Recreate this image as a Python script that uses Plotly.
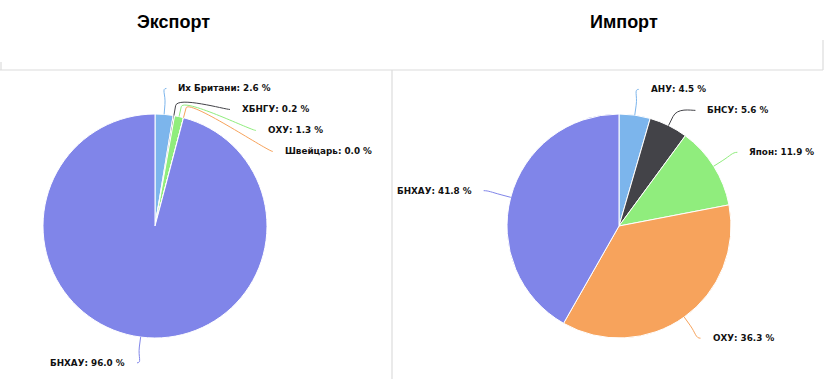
import math
import plotly.graph_objects as go

# ---- data ----
titles = ["Экспорт", "Импорт"]
export_labels = ["Их Британи", "ХБНГУ", "ОХУ", "Швейцарь", "БНХАУ"]
export_values = [2.6, 0.2, 1.3, 0.0, 96.0]
import_labels = ["АНУ", "БНСУ", "Япон", "ОХУ", "БНХАУ"]
import_values = [4.5, 5.6, 11.9, 36.3, 41.8]
colors = ["#7cb5ec", "#434348", "#90ed7d", "#f7a35c", "#8085e9"]

# ---- layout constants ----
W, H = 825, 379
R = 112
RX, RY = 140, 138
SPACING = 21
YMAX = 366
centers = [(155, 226), (619, 226)]
title_x = [173, 624]
LINE = "#dcdcdc"

fig = go.Figure()
shapes = []
annotations = []


def layout_labels(values, cx, cy):
    total = sum(values)
    cum = 0.0
    items = []
    for i, v in enumerate(values):
        mid = (cum + v / 2.0) / total * 2 * math.pi
        cum += v
        s, c = math.sin(mid), math.cos(mid)
        side = 1 if s >= 0 else -1
        items.append(dict(i=i, s=s, c=c, side=side, y=cy - RY * c))
    for side in (1, -1):
        grp = sorted([it for it in items if it["side"] == side], key=lambda it: it["y"])
        for a, b in zip(grp, grp[1:]):
            if b["y"] < a["y"] + SPACING:
                b["y"] = a["y"] + SPACING
        if grp and grp[-1]["y"] > YMAX:
            grp[-1]["y"] = YMAX
            for a, b in zip(reversed(grp[:-1]), reversed(grp[1:])):
                if a["y"] > b["y"] - SPACING:
                    a["y"] = b["y"] - SPACING
    for it in items:
        d = (it["y"] - cy) / RY
        it["x"] = cx + it["side"] * RX * math.sqrt(max(0.0, 1 - d * d))
    return items


for k, (labels, values) in enumerate([(export_labels, export_values),
                                       (import_labels, import_values)]):
    cx, cy = centers[k]
    fig.add_trace(go.Pie(
        labels=labels, values=values, sort=False, direction="clockwise",
        rotation=0, textinfo="none", hoverinfo="label+percent",
        marker=dict(colors=colors, line=dict(color="white", width=1)),
        domain=dict(x=[(cx - R) / W, (cx + R) / W],
                    y=[(H - cy - R) / H, (H - cy + R) / H]),
        showlegend=False,
    ))
    for it in layout_labels(values, cx, cy):
        i, s, c, side = it["i"], it["s"], it["c"], it["side"]
        lx, ly = it["x"], it["y"]
        tx, ty = cx + R * s, cy - R * c
        bx, by = cx + (R + 10) * s, cy - (R + 10) * c
        c2x, c2y = 2 * bx - tx, 2 * by - ty
        path = (f"M {lx:.2f} {ly:.2f} C {lx - side * 5:.2f} {ly:.2f} "
                f"{c2x:.2f} {c2y:.2f} {bx:.2f} {by:.2f} L {tx:.2f} {ty:.2f}")
        shapes.append(dict(type="path", path=path, xref="x", yref="y",
                           line=dict(color=colors[i], width=1), layer="above"))
        annotations.append(dict(
            x=lx + side * 10, y=ly, xref="x", yref="y",
            text=f"{labels[i]}: {values[i]:.1f} %", showarrow=False,
            xanchor="left" if side > 0 else "right", yanchor="middle",
            font=dict(family="DejaVu Sans", size=8.8, color="#111111", weight="bold"),
        ))
    annotations.append(dict(
        x=title_x[k], y=22, xref="x", yref="y", text=titles[k], showarrow=False,
        xanchor="center", yanchor="middle",
        font=dict(family="Liberation Sans", size=18, color="#000000", weight="bold"),
    ))

# frame lines
for x0, y0, x1, y1 in [(0, 70, 823, 70), (1, 62, 1, 70), (823, 40, 823, 70), (392, 70, 392, 379)]:
    shapes.append(dict(type="line", x0=x0, y0=y0, x1=x1, y1=y1, xref="x", yref="y",
                       line=dict(color=LINE, width=1.2), layer="below"))

fig.update_layout(
    width=W, height=H, autosize=False,
    margin=dict(l=0, r=0, t=0, b=0),
    paper_bgcolor="white", plot_bgcolor="white",
    xaxis=dict(range=[0, W], visible=False, fixedrange=True, domain=[0, 1]),
    yaxis=dict(range=[H, 0], visible=False, fixedrange=True, domain=[0, 1]),
    shapes=shapes, annotations=annotations,
)

fig.write_html("out.html", config={"displayModeBar": False},
               post_script="document.body.style.margin='0px';document.body.style.overflow='hidden';")
